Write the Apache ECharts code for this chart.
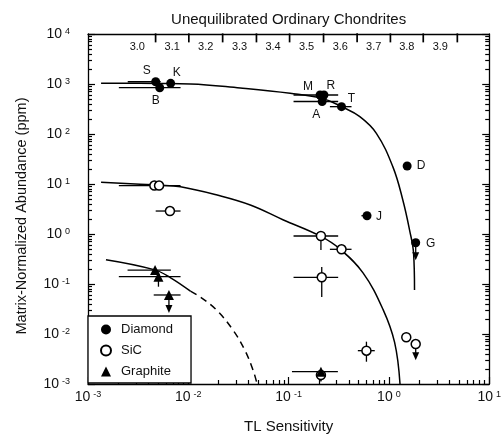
<!DOCTYPE html>
<html><head><meta charset="utf-8">
<script src="https://cdn.jsdelivr.net/npm/echarts@6/dist/echarts.min.js"></script>
<style>html,body{margin:0;padding:0;background:#fff}#c{width:504px;height:443px}</style>
</head><body><div id="c"></div>
<script>
// ---------------- data ----------------
const diamondNames = ['S','B','K','M','R','A','T','D','J','G'];
const diamondTL    = [0.00473,0.00519,0.00667,0.206,0.225,0.216,0.337,1.52,0.605,1.85];
const diamondAbund = [1110,843,1030,603,603,447,352,22.9,2.32,0.67];
const diamondXErr  = [[0.00249,0.0053,1110],[0.00203,0.00837,843],[0.112,0.312,603],[0.112,0.312,447],[0.258,0.424,352],[0.532,0.605,2.32]];
const diamondLimits = [[1.85,0.67,0.30]];

const sicTL    = [0.00459,0.00511,0.00656,0.21,0.337,0.214,1.49,1.85,0.597,0.21];
const sicAbund = [9.3,9.3,2.88,0.912,0.494,0.136,0.0086,0.0063,0.00464,0.00151];
const sicXErr  = [[0.00203,0.00837,9.3],[0.00473,0.00837,2.88],[0.112,0.312,0.912],[0.258,0.424,0.494],[0.112,0.312,0.136],[0.49,0.723,0.00464]];
const sicYErr  = [[0.21,0.48,0.912],[0.214,0.055,0.219],[0.597,0.00279,0.00702]];
const sicLimits = [[1.85,0.0063,0.0030],[0.21,0.00151,0.00108]];

const graphiteTL    = [0.00466,0.00504,0.00641,0.21];
const graphiteAbund = [0.19,0.14,0.0603,0.00176];
const graphiteXErr  = [[0.00248,0.0067,0.19],[0.00203,0.00837,0.14],[0.00452,0.00837,0.0603],[0.108,0.31,0.00176]];
const graphiteYErr  = [[0.00504,0.0883,0.14]];
const graphiteLimits = [[0.00641,0.0603,0.0263]];

const diamondCurveTL = [0.00135,0.005,0.0105,0.033,0.1035,0.22,0.337,0.513,0.75,1.096,1.376,1.607,1.762,1.80];
const diamondCurveAb = [1040,1025,1005,830,650,510,352,222,103,22,4.8,1.2,0.41,0.076];
const sicCurveTL = [0.00135,0.0051,0.00837,0.0194,0.0415,0.0888,0.2056,0.3246,0.552,0.873,1.14,1.29];
const sicCurveAb = [10.8,9.5,8.8,6.0,3.8,1.91,0.915,0.501,0.167,0.0311,0.00678,0.001];
const graphiteSolidTL = [0.00151,0.00455,0.00667,0.0105];
const graphiteSolidAb = [0.307,0.194,0.133,0.0719];
const graphiteDashTL = [0.0105,0.0130,0.0191,0.0279,0.0365,0.0442,0.0485];
const graphiteDashAb = [0.0719,0.0557,0.0302,0.012,0.00479,0.0019,0.001];

// top axis: petrologic types and the TL boundaries between them
const petrologicTypes = ['3.0','3.1','3.2','3.3','3.4','3.5','3.6','3.7','3.8','3.9'];
const typeBoundaries = [0.00472,0.01012,0.0220,0.0478,0.1023,0.223,0.482,1.035,2.20,4.81];

// ---------------- layout helpers ----------------
const FONT = 'Liberation Sans, Arial, Helvetica, sans-serif';
const labelOffsets = {S:[-9,-11],B:[-4,13],K:[6,-11],M:[-12,-8],R:[7,-9],A:[-6,13],T:[10,-8],D:[14,0],J:[12,1],G:[15,1]};
const TICK_END_ABUND = 6800;   // abundance level where the hanging type ticks end (just under the top frame)

const zip = (a,b)=>a.map((v,i)=>[v,b[i]]);
const bdLog = typeBoundaries.map(Math.log10);
const typeLabelPos = petrologicTypes.map((t,i)=> i===0 ? bdLog[0]-(bdLog[1]-bdLog[0])*0.55 : (bdLog[i-1]+bdLog[i])/2);
const minorX=[], minorY=[];
for(let d=-3; d<1; d++) for(let k=2;k<10;k++) minorX.push(d+Math.log10(k));
for(let d=-3; d<4; d++) for(let k=2;k<10;k++) minorY.push(d+Math.log10(k));

function powLabel(v){ const e=Math.round(Math.log10(v)); return '{b|10}{s|'+e+'}'; }
const powRich = { b:{fontSize:14,fontFamily:FONT,color:'#111'}, s:{fontSize:9,fontFamily:FONT,color:'#111',verticalAlign:'top',padding:[0,0,0,3]} };

const STROKE = {stroke:'#000', lineWidth:1.3};
function hErr(data){ return {type:'custom', silent:true, z:3, xAxisIndex:0, yAxisIndex:0, data, encode:{x:[0,1],y:2},
  renderItem(p,api){ const a=api.coord([api.value(0),api.value(2)]), b=api.coord([api.value(1),api.value(2)]);
    return {type:'line', shape:{x1:a[0],y1:a[1],x2:b[0],y2:b[1]}, style:STROKE}; } }; }
function vErr(data){ return {type:'custom', silent:true, z:3, xAxisIndex:0, yAxisIndex:0, data, encode:{x:0,y:[1,2]},
  renderItem(p,api){ const a=api.coord([api.value(0),api.value(1)]), b=api.coord([api.value(0),api.value(2)]);
    return {type:'line', shape:{x1:a[0],y1:a[1],x2:b[0],y2:b[1]}, style:STROKE}; } }; }
function limits(data){ return {type:'custom', silent:true, z:3, xAxisIndex:0, yAxisIndex:0, data, encode:{x:0,y:[1,2]},
  renderItem(p,api){ const a=api.coord([api.value(0),api.value(1)]), b=api.coord([api.value(0),api.value(2)]);
    return {type:'group', children:[
      {type:'line', shape:{x1:a[0],y1:a[1],x2:b[0],y2:b[1]-6}, style:STROKE},
      {type:'polygon', shape:{points:[[b[0]-3.5,b[1]-8],[b[0]+3.5,b[1]-8],[b[0],b[1]]]}, style:{fill:'#000'}}]}; } }; }
// petrologic-type boundary ticks hanging from the top frame
function topTicks(data){ return {type:'custom', silent:true, z:6, xAxisIndex:0, yAxisIndex:0, clip:false,
  data:data.map(v=>[v, TICK_END_ABUND]), encode:{x:0,y:1},
  renderItem(p,api){ const a=api.coord([api.value(0), api.value(1)]);
    return {type:'line', shape:{x1:a[0],y1:a[1]-9,x2:a[0],y2:a[1]}, style:{stroke:'#000', lineWidth:1.7}}; } }; }
function curve(tl,ab,dash){ return {type:'line', xAxisIndex:0, yAxisIndex:0, data:zip(tl,ab), smooth:0.4, showSymbol:false, silent:true, z:2,
  lineStyle:{color:'#000', width:1.5, type: dash? [7,5] : 'solid'}}; }

const chart = echarts.init(document.getElementById('c'), null, {renderer:'canvas'});
const axisLineStyle = {show:true, onZero:false, lineStyle:{color:'#000', width:1.3}};
const tickStyle = {color:'#000', width:1.2};
chart.setOption({
  animation:false,
  backgroundColor:'#fff',
  textStyle:{fontFamily:FONT},
  grid:{left:88, right:14, top:34, bottom:59, containLabel:false},
  xAxis:[
    {type:'log', logBase:10, min:0.001, max:10, position:'bottom', splitNumber:10,
     name:'TL Sensitivity', nameLocation:'middle', nameGap:35, nameTextStyle:{fontSize:15,color:'#111',fontFamily:FONT},
     axisLine:axisLineStyle, axisTick:{inside:true,length:7,lineStyle:tickStyle},
     axisLabel:{formatter:powLabel, rich:powRich, margin:6}, splitLine:{show:false}, minorTick:{show:false}},
    {type:'value', min:-3, max:1, position:'top',
     name:'Unequilibrated Ordinary Chondrites', nameLocation:'middle', nameGap:7, nameTextStyle:{fontSize:15,color:'#111',fontFamily:FONT},
     axisLine:axisLineStyle, axisTick:{show:false},
     axisLabel:{inside:true, margin:7, customValues:typeLabelPos, fontSize:11, color:'#111',
       formatter:(v)=>{ let bi=0; typeLabelPos.forEach((p,i)=>{ if(Math.abs(p-v)<Math.abs(typeLabelPos[bi]-v)) bi=i; }); return petrologicTypes[bi]; }},
     splitLine:{show:false}},
    {type:'value', min:-3, max:1, position:'bottom', axisLine:{show:false,onZero:false},
     axisTick:{show:true,inside:true,length:4,customValues:minorX,lineStyle:tickStyle}, axisLabel:{show:false}, splitLine:{show:false}}
  ],
  yAxis:[
    {type:'log', logBase:10, min:0.001, max:10000, position:'left', splitNumber:10,
     axisLine:axisLineStyle, axisTick:{inside:true,length:7,lineStyle:tickStyle},
     axisLabel:{formatter:powLabel, rich:powRich, margin:18}, splitLine:{show:false}, minorTick:{show:false}},
    {type:'log', logBase:10, min:0.001, max:10000, position:'right', splitNumber:10,
     axisLine:axisLineStyle, axisTick:{inside:true,length:7,lineStyle:tickStyle},
     axisLabel:{show:false}, splitLine:{show:false}},
    {type:'value', min:-3, max:4, position:'left', axisLine:{show:false,onZero:false},
     axisTick:{show:true,inside:true,length:4,customValues:minorY,lineStyle:tickStyle}, axisLabel:{show:false}, splitLine:{show:false}},
    {type:'value', min:-3, max:4, position:'right', axisLine:{show:false,onZero:false},
     axisTick:{show:true,inside:true,length:4,customValues:minorY,lineStyle:tickStyle}, axisLabel:{show:false}, splitLine:{show:false}}
  ],
  graphic:[{type:'text', x:22, y:216, rotation:Math.PI/2, z:10,
    style:{text:'Matrix-Normalized Abundance (ppm)', font:'14.5px '+FONT, fill:'#111', align:'center', verticalAlign:'middle'}}],
  legend:{data:['Diamond','SiC','Graphite'], orient:'vertical', left:88, top:316, itemWidth:10, itemHeight:10, itemGap:8,
    padding:[7,18,5,12], borderColor:'#000', borderWidth:1.3, backgroundColor:'#fff', borderRadius:0,
    textStyle:{fontSize:13, color:'#111', fontFamily:FONT, padding:[0,0,0,5]}},
  series:[
    curve(diamondCurveTL, diamondCurveAb),
    curve(sicCurveTL, sicCurveAb),
    curve(graphiteSolidTL, graphiteSolidAb),
    curve(graphiteDashTL, graphiteDashAb, true),
    hErr(diamondXErr), hErr(sicXErr), hErr(graphiteXErr),
    vErr(sicYErr), vErr(graphiteYErr),
    limits(diamondLimits), limits(sicLimits), limits(graphiteLimits),
    topTicks(typeBoundaries),
    {name:'Diamond', type:'scatter', xAxisIndex:0, yAxisIndex:0, symbol:'circle', symbolSize:9, z:5,
     itemStyle:{color:'#000', opacity:1},
     label:{show:true, position:'inside', formatter:'{b}', fontSize:12, color:'#111', fontFamily:FONT},
     data: diamondNames.map((n,i)=>({name:n, value:[diamondTL[i], diamondAbund[i]], label:{offset:labelOffsets[n]}}))},
    {name:'SiC', type:'scatter', xAxisIndex:0, yAxisIndex:0, symbol:'circle', symbolSize:9, z:5,
     itemStyle:{color:'#fff', borderColor:'#000', borderWidth:1.5, opacity:1}, data: zip(sicTL, sicAbund)},
    {name:'Graphite', type:'scatter', xAxisIndex:0, yAxisIndex:0, symbol:'triangle', symbolSize:10, z:5,
     itemStyle:{color:'#000', opacity:1}, data: zip(graphiteTL, graphiteAbund)}
  ]
});
</script></body></html>
